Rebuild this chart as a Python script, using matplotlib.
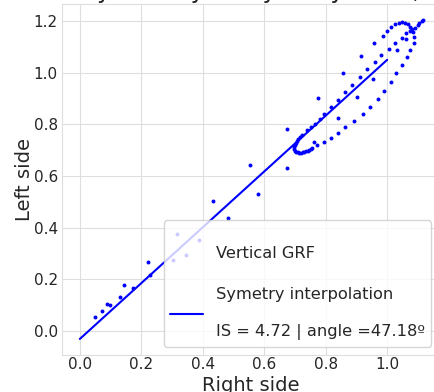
import numpy as np
import matplotlib
matplotlib.use("Agg")
import matplotlib.pyplot as plt
from matplotlib.lines import Line2D
import seaborn as sns

# ---- data ----
lower_x = [0.051, 0.072, 0.090, 0.098, 0.131, 0.144, 0.172, 0.221, 0.228, 0.302,
           0.317, 0.345, 0.387, 0.432, 0.482, 0.554, 0.581, 0.674, 0.674]
lower_y = [0.055, 0.079, 0.107, 0.103, 0.131, 0.179, 0.168, 0.267, 0.217, 0.277,
           0.375, 0.294, 0.352, 0.502, 0.438, 0.641, 0.531, 0.632, 0.780]

outer_x = [0.775, 0.856, 0.914, 0.958, 0.985, 1.000, 1.013, 1.026, 1.037, 1.048,
           1.058, 1.068, 1.076, 1.081, 1.085]
outer_y = [0.900, 0.999, 1.064, 1.113, 1.142, 1.161, 1.177, 1.188, 1.193, 1.194,
           1.193, 1.188, 1.178, 1.167, 1.158]

tail_x = [1.092, 1.099, 1.105, 1.112, 1.116]
tail_y = [1.172, 1.182, 1.190, 1.199, 1.205]

inner_x = [0.724, 0.738, 0.751, 0.764, 0.780, 0.796, 0.817, 0.839, 0.862, 0.886,
           0.911, 0.935, 0.959, 0.981, 1.007, 1.026, 1.048, 1.062, 1.076]
inner_y = [0.758, 0.776, 0.790, 0.803, 0.820, 0.841, 0.865, 0.893, 0.923, 0.953,
           0.984, 1.014, 1.042, 1.068, 1.093, 1.114, 1.135, 1.152, 1.160]

hook_x = [0.717, 0.711, 0.706, 0.702, 0.699, 0.698, 0.698, 0.700, 0.704, 0.709,
          0.714, 0.719, 0.725, 0.731, 0.736, 0.741, 0.746, 0.751, 0.756]
hook_y = [0.752, 0.744, 0.736, 0.728, 0.720, 0.712, 0.704, 0.698, 0.694, 0.691,
          0.690, 0.690, 0.691, 0.693, 0.695, 0.697, 0.700, 0.704, 0.708]

branch_x = [0.761, 0.771, 0.793, 0.817, 0.839, 0.864, 0.893, 0.920, 0.945, 0.969,
            0.989, 1.011, 1.030, 1.049, 1.065, 1.076, 1.086, 1.086]
branch_y = [0.731, 0.718, 0.731, 0.747, 0.765, 0.788, 0.811, 0.839, 0.868, 0.897,
            0.930, 0.963, 0.997, 1.028, 1.059, 1.087, 1.115, 1.139]

middle_x = [0.839, 0.902, 0.954, 1.033, 1.060]
middle_y = [0.823, 0.904, 0.975, 1.087, 1.129]

right_side = np.array(lower_x + outer_x + tail_x + inner_x + hook_x + branch_x + middle_x)
left_side = np.array(lower_y + outer_y + tail_y + inner_y + hook_y + branch_y + middle_y)

symmetry_index = 4.72
angle_deg = 47.18
intercept = -0.03
line_x = [0.0, 1.0]

title_text = "Symmetry analysis by sides,"
x_label = "Right side"
y_label = "Left side"
scatter_label = "\nVertical GRF\n"
line_label = "Symetry interpolation\n\nIS = {:.2f} | angle ={:.2f}\u00ba".format(symmetry_index, angle_deg)

# ---- plot ----
sns.set_style("whitegrid", {"grid.color": "0.87", "axes.edgecolor": "0.87"})
plt.rcParams['font.family'] = ['DejaVu Sans']

fig = plt.figure(figsize=(4.34, 3.92), dpi=100)
ax = fig.add_axes([62 / 434, 37 / 392, 378 / 434, 351.5 / 392])

ax.scatter(right_side, left_side, s=8, color="blue", linewidths=0, zorder=3)
slope = np.tan(np.radians(angle_deg))
lx = np.array(line_x)
ax.plot(lx, slope * lx + intercept, color="blue", lw=1.5, zorder=3)

ax.set_xlim(-0.058, 1.172)
ax.set_ylim(-0.092, 1.267)
ax.set_xticks([0.0, 0.2, 0.4, 0.6, 0.8, 1.0])
ax.set_yticks([0.0, 0.2, 0.4, 0.6, 0.8, 1.0, 1.2])
ax.tick_params(axis="x", labelsize=11, length=0, pad=1.5)
ax.tick_params(axis="y", labelsize=11, length=0, pad=3)
ax.set_xlabel(x_label, fontsize=14, labelpad=3)
ax.set_ylabel(y_label, fontsize=14, labelpad=0)
ax.set_title(title_text, fontsize=17, pad=4.2)

handles = [Line2D([], [], linestyle="none"),
           Line2D([], [], color="blue", lw=1.5)]
leg = ax.legend(handles, [scatter_label, line_label], loc="lower right",
                bbox_to_anchor=(431 / 434, 45 / 392), bbox_transform=fig.transFigure,
                borderaxespad=0, fontsize=11.7)
for t in leg.get_texts():
    t.set_linespacing(1.3)

fig.savefig("out.png", dpi=100)
